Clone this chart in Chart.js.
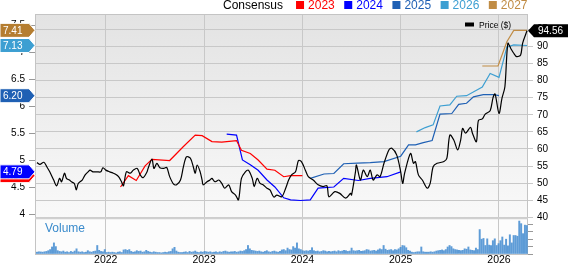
<!DOCTYPE html>
<html>
<head>
<meta charset="utf-8">
<script src="https://cdn.jsdelivr.net/npm/chart.js@4.4.1/dist/chart.umd.min.js"></script>
<style>
  html, body { margin: 0; padding: 0; background: #fff; overflow: hidden; }
</style>
</head>
<body>
<canvas id="chart" width="568" height="264"></canvas>
<script>
// ---- data (x = decimal year) ----
const yearTicks = [2022, 2023, 2024, 2025, 2026];
const epsTicks = [4, 4.5, 5, 5.5, 6, 6.5, 7, 7.5];
const priceTicks = [40, 45, 50, 55, 60, 65, 70, 75, 80, 85, 90, 95];
const volTicks = [0, 100, 200, 300, 400];

const priceX = [2021.30, 2021.33, 2021.37, 2021.40, 2021.43, 2021.47, 2021.50, 2021.53, 2021.55, 2021.58,
  2021.60, 2021.63, 2021.65, 2021.68, 2021.70, 2021.72, 2021.76, 2021.79, 2021.82, 2021.84,
  2021.87, 2021.91, 2021.95, 2021.97, 2022.00, 2022.04, 2022.07, 2022.10, 2022.13, 2022.16,
  2022.18, 2022.21, 2022.25, 2022.28, 2022.32, 2022.35, 2022.38, 2022.42, 2022.43, 2022.47,
  2022.49, 2022.52, 2022.55, 2022.59, 2022.62, 2022.65, 2022.69, 2022.72, 2022.76, 2022.79,
  2022.82, 2022.86, 2022.89, 2022.91, 2022.93, 2022.96, 2022.98, 2022.99, 2023.03, 2023.06,
  2023.08, 2023.11, 2023.15, 2023.18, 2023.21, 2023.25, 2023.28, 2023.32, 2023.35, 2023.38,
  2023.42, 2023.45, 2023.49, 2023.51, 2023.54, 2023.57, 2023.60, 2023.64, 2023.67, 2023.71,
  2023.74, 2023.79, 2023.83, 2023.86, 2023.89, 2023.93, 2023.96, 2023.99, 2024.03, 2024.06,
  2024.11, 2024.16, 2024.21, 2024.25, 2024.27, 2024.33, 2024.38, 2024.44, 2024.49, 2024.50,
  2024.54, 2024.55, 2024.59, 2024.62, 2024.66, 2024.69, 2024.72, 2024.76, 2024.79, 2024.83,
  2024.88, 2024.91, 2024.96, 2025.00, 2025.02, 2025.04, 2025.10, 2025.13, 2025.15, 2025.18,
  2025.22, 2025.27, 2025.30, 2025.33, 2025.37, 2025.44, 2025.47, 2025.50, 2025.54, 2025.58,
  2025.61, 2025.63, 2025.66, 2025.71, 2025.73, 2025.77, 2025.79, 2025.83, 2025.86, 2025.91,
  2025.94, 2025.96, 2026.00, 2026.03, 2026.06, 2026.09, 2026.12, 2026.15, 2026.18, 2026.22,
  2026.24, 2026.285];
const priceY = [56.0, 55.5, 56.1, 54.8, 53.3, 50.9, 49.2, 51.4, 50.4, 52.9,
  51.4, 50.9, 50.4, 49.9, 48.0, 49.9, 50.9, 52.4, 53.3, 53.8,
  53.3, 53.3, 53.3, 54.5, 53.8, 53.3, 53.0, 52.6, 51.9, 50.4,
  49.2, 53.3, 52.9, 53.8, 54.3, 52.4, 51.6, 53.3, 54.3, 57.0,
  54.3, 55.8, 54.5, 54.3, 54.6, 51.9, 49.7, 49.5, 50.9, 54.8,
  57.7, 57.3, 54.8, 52.9, 55.3, 53.3, 50.9, 49.5, 50.4, 50.9,
  51.4, 50.4, 50.9, 49.9, 48.5, 49.5, 47.5, 46.5, 45.1, 51.4,
  53.3, 53.8, 51.4, 49.0, 51.4, 49.9, 49.5, 48.5, 48.0, 45.9,
  46.5, 46.0, 48.5, 50.9, 52.4, 53.3, 56.6, 56.3, 53.8, 51.9,
  50.9, 49.5, 49.0, 49.2, 46.0, 47.5, 47.0, 45.6, 47.0, 46.5,
  53.3, 55.3, 50.9, 53.8, 51.9, 53.8, 50.9, 52.4, 51.9, 55.8,
  59.7, 60.2, 58.2, 53.3, 49.9, 52.9, 58.7, 55.8, 56.3, 52.4,
  50.9, 48.5, 49.9, 54.8, 55.8, 56.3, 57.3, 64.1, 62.6, 59.7,
  62.6, 66.0, 64.6, 66.3, 64.6, 62.1, 68.3, 68.8, 70.2, 71.2,
  75.1, 76.1, 70.4, 74.8, 78.2, 90.9, 89.4, 88.0, 87.0, 87.5,
  90.9, 94.56];

const eps2023X = [2022.15, 2022.23, 2022.31, 2022.40, 2022.47, 2022.65, 2022.79, 2022.91, 2022.98, 2023.08,
  2023.18, 2023.33, 2023.38, 2023.47, 2023.55, 2023.64, 2023.72, 2023.81, 2023.88, 2024.00];
const eps2023Y = [4.51, 4.72, 4.63, 4.90, 5.02, 5.00, 5.26, 5.47, 5.46, 5.35,
  5.34, 5.37, 5.19, 5.13, 5.01, 4.84, 4.82, 4.70, 4.72, 4.72];

const eps2024X = [2023.23, 2023.33, 2023.39, 2023.47, 2023.55, 2023.64, 2023.72, 2023.81, 2023.88, 2023.98,
  2024.08, 2024.16, 2024.32, 2024.42, 2024.57, 2024.69, 2024.86, 2025.00];
const eps2024Y = [5.49, 5.47, 5.01, 4.92, 4.82, 4.64, 4.51, 4.31, 4.27, 4.26,
  4.27, 4.49, 4.51, 4.67, 4.63, 4.67, 4.70, 4.79];

const eps2025X = [2024.08, 2024.22, 2024.32, 2024.42, 2024.56, 2024.69, 2024.83, 2025.00, 2025.08, 2025.15,
  2025.23, 2025.32, 2025.40, 2025.52, 2025.59, 2025.67, 2025.74, 2025.84, 2025.95, 2026.00];
const eps2025Y = [4.67, 4.75, 4.76, 4.94, 4.95, 4.96, 4.98, 5.08, 5.29, 5.29,
  5.33, 5.37, 5.86, 5.87, 6.04, 6.06, 6.18, 6.22, 6.22, 6.20];

const eps2026X = [2025.16, 2025.25, 2025.33, 2025.40, 2025.50, 2025.57, 2025.67, 2025.78, 2025.83, 2025.91,
  2026.00, 2026.08, 2026.15, 2026.285];
const eps2026Y = [5.53, 5.61, 5.66, 6.01, 6.03, 6.19, 6.20, 6.31, 6.36, 6.61,
  6.54, 7.10, 7.14, 7.13];

const eps2027X = [2025.83, 2025.99, 2026.08, 2026.15, 2026.285];
const eps2027Y = [6.75, 6.75, 7.20, 7.41, 7.41];

// weekly volume (thousands), first week at volStart
const volStart = 2021.30;
const volume = [
  25, 30, 28, 25, 30, 35, 45, 60, 95, 150, 100, 45, 35,
  30, 40, 25, 30, 20, 35, 25, 40, 70, 30, 25, 30, 20,
  25, 45, 30, 25, 35, 40, 115, 50, 35, 30, 60, 20, 25,
  20, 25, 20, 15, 25, 30, 20, 55, 60, 50, 60, 35, 25,
  30, 45, 35, 40, 25, 30, 50, 35, 25, 20, 30, 25, 20,
  20, 15, 20, 25, 20, 30, 35, 70, 90, 40, 25, 20, 20,
  25, 30, 20, 35, 25, 30, 40, 25, 20, 30, 25, 35, 30,
  25, 30, 20, 25, 30, 20, 30, 25, 35, 40, 30, 25, 30,
  30, 35, 25, 30, 40, 35, 45, 60, 115, 70, 50, 45, 40,
  35, 40, 30, 25, 35, 45, 30, 25, 35, 40, 30, 25, 35,
  55, 60, 45, 80, 60, 55, 100, 80, 150, 70, 60, 45, 40,
  45, 40, 50, 85, 45, 35, 40, 30, 35, 45, 40, 30, 35,
  30, 35, 40, 30, 45, 35, 40, 50, 45, 35, 40, 80, 45,
  40, 45, 50, 35, 40, 45, 60, 55, 40, 45, 50, 40, 55,
  70, 60, 115, 65, 50, 55, 60, 45, 60, 55, 70, 90, 115,
  110, 85, 50, 40, 25, 20, 25, 30, 30, 95, 30, 25, 25,
  25, 30, 25, 30, 40, 45, 50, 55, 45, 60, 95, 115, 100,
  70, 60, 55, 50, 45, 50, 70, 65, 95, 55, 50, 45, 80,
  60, 330, 200, 210, 115, 205, 120, 115, 180, 205, 115, 140, 180,
  230, 120, 200, 110, 260, 150, 250, 250, 240, 445, 410, 275, 390,
  385
];

const consensusYears = ['2023', '2024', '2025', '2026', '2027'];
const consensusColors = ['#ff0000', '#0000ff', '#1f60b4', '#3d9fd2', '#c08c45'];
const tagColors = ['#ff0000', '#0000ff', '#1f60b4', '#3d9fd2', '#b57d30'];

const FONT = '"Liberation Sans", Arial, sans-serif';
Chart.defaults.font.family = FONT;

const pts = (xs, ys) => xs.map((x, i) => ({ x: x, y: ys[i] }));
const volPts = volume.map((v, i) => ({ x: volStart + i * 7 / 365.25, y: v }));
const epsSets = [pts(eps2023X, eps2023Y), pts(eps2024X, eps2024Y), pts(eps2025X, eps2025Y),
  pts(eps2026X, eps2026Y), pts(eps2027X, eps2027Y)];

const epsDatasets = epsSets.map((d, i) => ({
  label: consensusYears[i],
  data: d,
  yAxisID: 'yE',
  borderColor: consensusColors[i],
  borderWidth: 1.2,
  pointRadius: 0,
  tension: 0,
  order: 2 + i
}));

function drawTagLeft(ctx, y, color, text) {
  ctx.beginPath();
  ctx.moveTo(0, y - 7);
  ctx.lineTo(29, y - 7);
  ctx.lineTo(35, y);
  ctx.lineTo(29, y + 7);
  ctx.lineTo(0, y + 7);
  ctx.closePath();
  ctx.fillStyle = color;
  ctx.fill();
  ctx.strokeStyle = '#fff';
  ctx.lineWidth = 1;
  ctx.stroke();
  ctx.fillStyle = '#fff';
  ctx.font = '10px ' + FONT;
  ctx.textAlign = 'left';
  ctx.textBaseline = 'middle';
  ctx.fillText(text, 3, y + 0.5);
}

const decor = {
  id: 'decor',
  beforeDraw(chart) {
    const { ctx, chartArea: a } = chart;
    const split = chart.scales.yP.getPixelForValue(40);
    ctx.save();
    ctx.fillStyle = '#fff';
    ctx.fillRect(0, 0, chart.width, chart.height);
    const g = ctx.createLinearGradient(0, a.top, 0, split);
    g.addColorStop(0, '#e3e3e3');
    g.addColorStop(1, '#f9f9f9');
    ctx.fillStyle = g;
    ctx.fillRect(a.left, a.top, a.right - a.left, split - a.top);
    ctx.fillStyle = '#fcfcfc';
    ctx.fillRect(a.left, split, a.right - a.left, a.bottom - split);
    ctx.restore();
  },
  beforeDatasetsDraw(chart) {
    const { ctx, chartArea: a } = chart;
    const split = chart.scales.yP.getPixelForValue(40);
    ctx.save();
    ctx.strokeStyle = '#c4c4c4';
    ctx.lineWidth = 1;
    ctx.strokeRect(a.left + 0.5, a.top + 0.5, a.right - a.left - 1, a.bottom - a.top);
    ctx.strokeStyle = '#d0d0d0';
    ctx.lineWidth = 2;
    ctx.beginPath();
    ctx.moveTo(a.left, split + 1);
    ctx.lineTo(a.right, split + 1);
    ctx.stroke();
    // "Volume" caption
    ctx.fillStyle = '#3a8bcc';
    ctx.font = '12px ' + FONT;
    ctx.textBaseline = 'middle';
    ctx.fillText('Volume', a.left + 10, split + 11);
    ctx.restore();
  },
  afterDraw(chart) {
    const { ctx, chartArea: a } = chart;
    ctx.save();
    // top legend
    ctx.font = '12px ' + FONT;
    ctx.textBaseline = 'middle';
    ctx.textAlign = 'left';
    let x = 223;
    ctx.fillStyle = '#000';
    ctx.fillText('Consensus', x, 5.5);
    x += ctx.measureText('Consensus').width + 13;
    consensusYears.forEach((yr, i) => {
      ctx.fillStyle = consensusColors[i];
      ctx.fillRect(x, 1, 8, 8);
      x += 12;
      ctx.fillText(yr, x, 5.5);
      x += ctx.measureText(yr).width + 9.5;
    });
    // price legend
    ctx.fillStyle = '#000';
    ctx.fillRect(465, 22.5, 9, 4);
    ctx.font = '8.5px ' + FONT;
    ctx.fillText('Price ($)', 479, 25.5);

    // last-value tags on the left (EPS)
    const yE = chart.scales.yE;
    epsSets.forEach((d, i) => {
      const last = d[d.length - 1].y;
      drawTagLeft(ctx, yE.getPixelForValue(last), tagColors[i], last.toFixed(2));
    });

    // last price tag on the right
    const lastP = priceY[priceY.length - 1];
    const py = chart.scales.yP.getPixelForValue(lastP);
    ctx.beginPath();
    ctx.moveTo(a.right, py);
    ctx.lineTo(a.right + 6, py - 6.5);
    ctx.lineTo(568, py - 6.5);
    ctx.lineTo(568, py + 6.5);
    ctx.lineTo(a.right + 6, py + 6.5);
    ctx.closePath();
    ctx.fillStyle = '#000';
    ctx.fill();
    ctx.fillStyle = '#fff';
    ctx.font = '10px ' + FONT;
    ctx.textAlign = 'left';
    ctx.fillText(lastP.toFixed(2), a.right + 10, py + 0.5);
    ctx.restore();
  }
};

new Chart(document.getElementById('chart'), {
  type: 'line',
  data: {
    datasets: [
      {
        label: 'Price ($)',
        data: pts(priceX, priceY),
        yAxisID: 'yP',
        borderColor: '#000',
        borderWidth: 1.2,
        pointRadius: 0,
        tension: 0.3,
        order: 0
      },
      ...epsDatasets,
      {
        type: 'bar',
        label: 'Volume',
        data: volPts,
        yAxisID: 'yV',
        backgroundColor: 'rgba(66, 139, 208, 0.85)',
        barThickness: 1.3,
        order: 20
      }
    ]
  },
  options: {
    responsive: false,
    animation: false,
    events: [],
    layout: { padding: { top: 14, left: 0, right: 0, bottom: 0 } },
    plugins: { legend: { display: false }, tooltip: { enabled: false } },
    scales: {
      x: {
        type: 'linear',
        offset: false,
        min: 2021.28,
        max: 2026.295,
        afterBuildTicks: s => { s.ticks = yearTicks.map(v => ({ value: v })); },
        afterFit: s => { s.height = 10; },
        ticks: { callback: v => String(v), color: '#000', font: { size: 10.5 }, padding: 0, maxRotation: 0 },
        grid: { color: '#c8c8c8', drawTicks: false, offset: false },
        border: { display: false }
      },
      yE: {
        position: 'left',
        min: 3.269,
        max: 7.713,
        afterBuildTicks: s => { s.ticks = epsTicks.map(v => ({ value: v })); },
        afterFit: s => { s.width = 35; },
        ticks: { callback: v => String(v), color: '#000', font: { size: 10 }, padding: 4 },
        grid: { drawOnChartArea: false, tickLength: 6, color: '#999' },
        border: { display: false }
      },
      yP: {
        position: 'right',
        weight: 1,
        min: 29.26,
        max: 99.48,
        afterBuildTicks: s => { s.ticks = priceTicks.map(v => ({ value: v })); },
        afterFit: s => { s.width = 40; },
        ticks: { callback: v => String(v), color: '#000', font: { size: 10 }, padding: 4 },
        grid: { color: '#c8c8c8', tickLength: 5 },
        border: { display: false }
      },
      yV: {
        position: 'right',
        weight: 0,
        min: 0,
        max: 3243,
        afterBuildTicks: s => { s.ticks = volTicks.map(v => ({ value: v })); },
        afterFit: s => { s.width = 0; },
        ticks: { callback: v => String(v), color: '#000', font: { size: 8 }, padding: 4 },
        grid: { drawOnChartArea: false, tickLength: 5, color: '#999' },
        border: { display: false }
      }
    }
  },
  plugins: [decor]
});
</script>
</body>
</html>
